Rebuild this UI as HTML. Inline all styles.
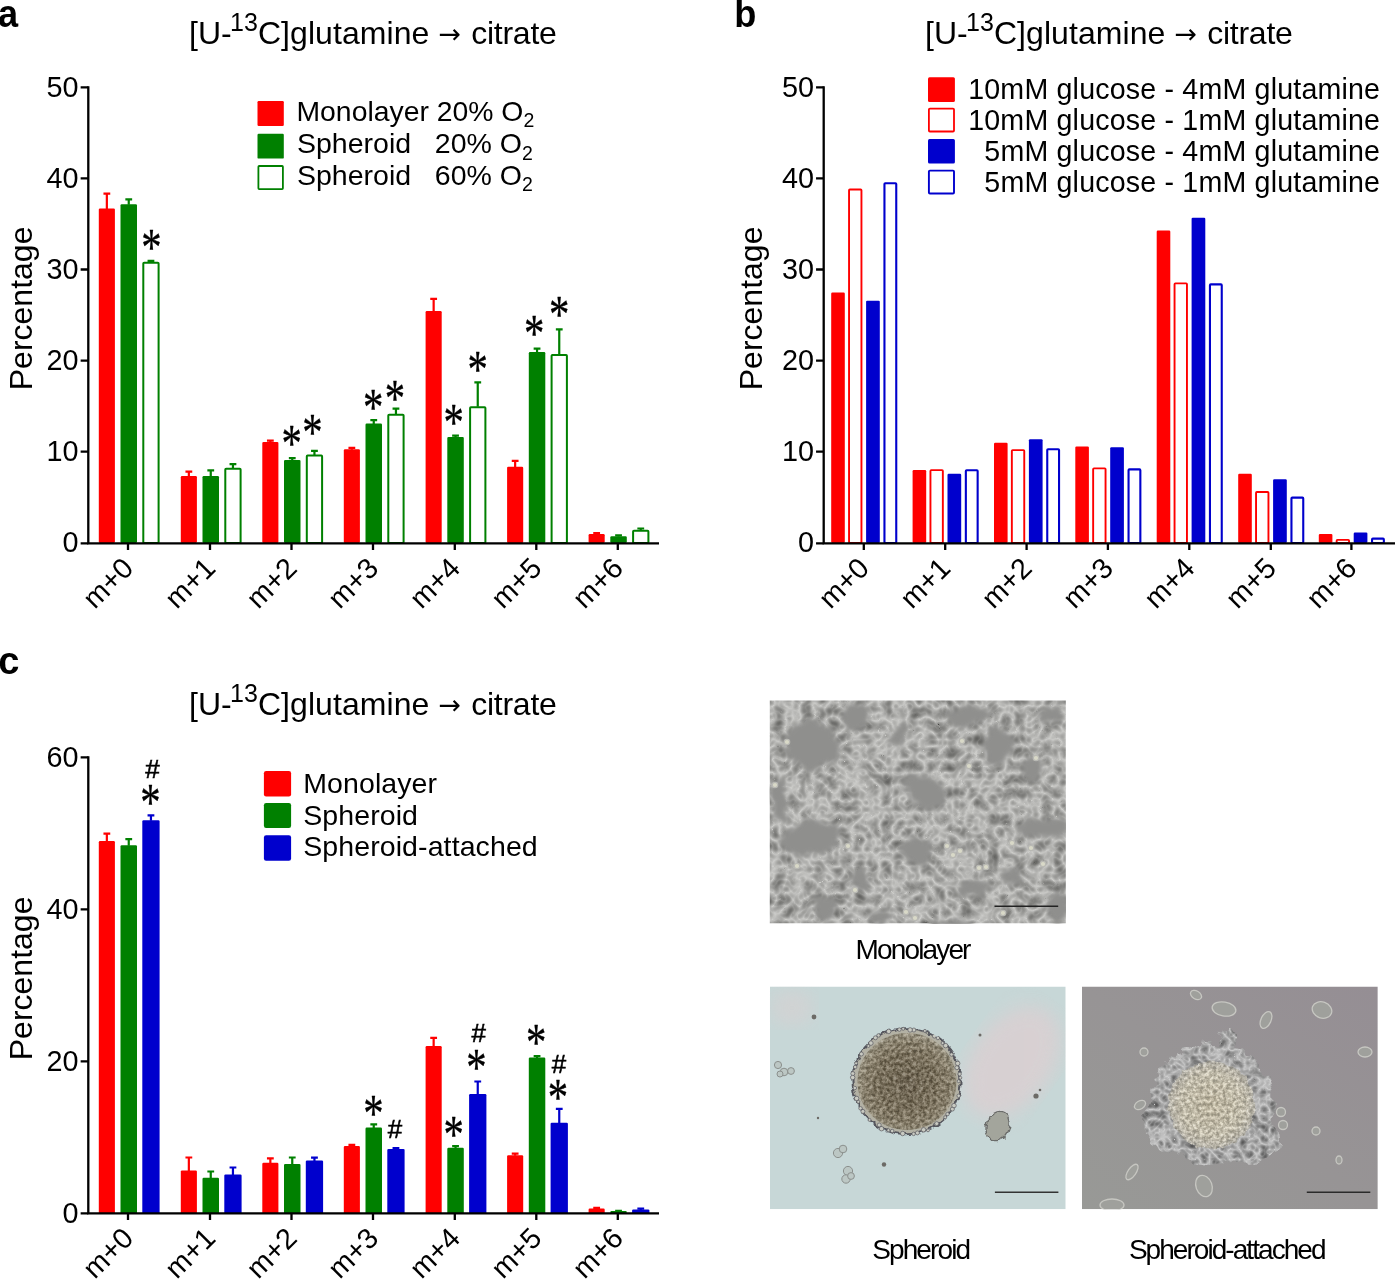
<!DOCTYPE html>
<html lang="en"><head><meta charset="utf-8"><title>Figure</title>
<style>html,body{margin:0;padding:0;background:#fff}svg{display:block}text{font-family:'Liberation Sans', sans-serif;fill:#000}</style></head><body>
<svg width="1395" height="1279" viewBox="0 0 1395 1279">
<rect width="1395" height="1279" fill="#fff"/>
<g id="panel-a">
<text x="-2.0" y="27.1" font-size="38" font-weight="bold" textLength="20.1" lengthAdjust="spacingAndGlyphs" >a</text>
<text x="189" y="44.2" font-size="32">[U-</text>
<text x="230.1" y="31.1" font-size="25">13</text>
<text x="257.9" y="44.2" font-size="32" textLength="171.5" lengthAdjust="spacing">C]glutamine</text>
<text x="438.6" y="43.2" font-size="27" style="font-family:'DejaVu Sans', 'Liberation Sans', sans-serif">→</text>
<text x="471.3" y="44.2" font-size="32" textLength="85.5" lengthAdjust="spacing">citrate</text>
<rect x="98.8" y="208.5" width="16.10000000000001" height="334.5" rx="1.2" fill="#ff0000"/>
<path d="M106.85 209.0 V193.6 M103.44999999999999 193.6 H110.25" fill="none" stroke="#ff0000" stroke-width="2.2"/>
<rect x="120.5" y="204.2" width="16.5" height="338.8" rx="1.2" fill="#008000"/>
<path d="M128.75 204.7 V199.3 M125.35 199.3 H132.15" fill="none" stroke="#008000" stroke-width="2.2"/>
<rect x="143.3" y="262.7" width="15.299999999999983" height="280.3" rx="0.8" fill="#fff" stroke="#008000" stroke-width="2.0"/>
<path d="M150.95 262.2 V260.9 M147.54999999999998 260.9 H154.35" fill="none" stroke="#008000" stroke-width="2.2"/>
<rect x="180.8" y="476.1" width="16.099999999999994" height="66.89999999999998" rx="1.2" fill="#ff0000"/>
<path d="M188.85000000000002 476.6 V471.6 M185.45000000000002 471.6 H192.25000000000003" fill="none" stroke="#ff0000" stroke-width="2.2"/>
<rect x="202.5" y="476.1" width="16.5" height="66.89999999999998" rx="1.2" fill="#008000"/>
<path d="M210.75 476.6 V470.3 M207.35 470.3 H214.15" fill="none" stroke="#008000" stroke-width="2.2"/>
<rect x="225.3" y="468.8" width="15.299999999999983" height="74.19999999999999" rx="0.8" fill="#fff" stroke="#008000" stroke-width="2.0"/>
<path d="M232.95 468.3 V464.1 M229.54999999999998 464.1 H236.35" fill="none" stroke="#008000" stroke-width="2.2"/>
<rect x="262.3" y="441.9" width="16.099999999999966" height="101.10000000000002" rx="1.2" fill="#ff0000"/>
<path d="M270.35 442.4 V440.7 M266.95000000000005 440.7 H273.75" fill="none" stroke="#ff0000" stroke-width="2.2"/>
<rect x="284.0" y="459.9" width="16.5" height="83.10000000000002" rx="1.2" fill="#008000"/>
<path d="M292.25 460.4 V458.2 M288.85 458.2 H295.65" fill="none" stroke="#008000" stroke-width="2.2"/>
<rect x="306.8" y="455.6" width="15.300000000000011" height="87.39999999999998" rx="0.8" fill="#fff" stroke="#008000" stroke-width="2.0"/>
<path d="M314.45000000000005 455.1 V450.8 M311.05000000000007 450.8 H317.85" fill="none" stroke="#008000" stroke-width="2.2"/>
<rect x="343.8" y="449.2" width="16.099999999999966" height="93.80000000000001" rx="1.2" fill="#ff0000"/>
<path d="M351.85 449.7 V447.8 M348.45000000000005 447.8 H355.25" fill="none" stroke="#ff0000" stroke-width="2.2"/>
<rect x="365.5" y="423.6" width="16.5" height="119.39999999999998" rx="1.2" fill="#008000"/>
<path d="M373.75 424.1 V420.1 M370.35 420.1 H377.15" fill="none" stroke="#008000" stroke-width="2.2"/>
<rect x="388.3" y="414.8" width="15.300000000000011" height="128.2" rx="0.8" fill="#fff" stroke="#008000" stroke-width="2.0"/>
<path d="M395.95000000000005 414.3 V408.6 M392.55000000000007 408.6 H399.35" fill="none" stroke="#008000" stroke-width="2.2"/>
<rect x="425.6" y="311" width="16.099999999999966" height="232" rx="1.2" fill="#ff0000"/>
<path d="M433.65 311.5 V298.8 M430.25 298.8 H437.04999999999995" fill="none" stroke="#ff0000" stroke-width="2.2"/>
<rect x="447.3" y="436.9" width="16.5" height="106.10000000000002" rx="1.2" fill="#008000"/>
<path d="M455.55 437.4 V435.7 M452.15000000000003 435.7 H458.95" fill="none" stroke="#008000" stroke-width="2.2"/>
<rect x="470.1" y="407.3" width="15.300000000000011" height="135.7" rx="0.8" fill="#fff" stroke="#008000" stroke-width="2.0"/>
<path d="M477.75 406.8 V382.3 M474.35 382.3 H481.15" fill="none" stroke="#008000" stroke-width="2.2"/>
<rect x="507.09999999999997" y="466.8" width="16.099999999999966" height="76.19999999999999" rx="1.2" fill="#ff0000"/>
<path d="M515.15 467.3 V460.8 M511.75 460.8 H518.55" fill="none" stroke="#ff0000" stroke-width="2.2"/>
<rect x="528.8" y="352.1" width="16.5" height="190.89999999999998" rx="1.2" fill="#008000"/>
<path d="M537.05 352.6 V348.6 M533.65 348.6 H540.4499999999999" fill="none" stroke="#008000" stroke-width="2.2"/>
<rect x="551.5999999999999" y="354.9" width="15.300000000000068" height="188.10000000000002" rx="0.8" fill="#fff" stroke="#008000" stroke-width="2.0"/>
<path d="M559.25 354.4 V329.3 M555.85 329.3 H562.65" fill="none" stroke="#008000" stroke-width="2.2"/>
<rect x="588.5999999999999" y="534" width="16.100000000000023" height="9" rx="1.2" fill="#ff0000"/>
<path d="M596.6499999999999 534.5 V533.0 M593.2499999999999 533.0 H600.0499999999998" fill="none" stroke="#ff0000" stroke-width="2.2"/>
<rect x="610.3" y="536.3" width="16.5" height="6.7000000000000455" rx="1.2" fill="#008000"/>
<path d="M618.55 536.8 V535.3 M615.15 535.3 H621.9499999999999" fill="none" stroke="#008000" stroke-width="2.2"/>
<rect x="633.0999999999999" y="530.7" width="15.300000000000068" height="12.299999999999955" rx="0.8" fill="#fff" stroke="#008000" stroke-width="2.0"/>
<path d="M640.75 530.2 V528.5 M637.35 528.5 H644.15" fill="none" stroke="#008000" stroke-width="2.2"/>
<path d="M88.3 86.14999999999999 V543.4 M87.14999999999999 543.4 H659" fill="none" stroke="#000" stroke-width="2.3"/>
<path d="M80.64999999999999 87.3 H88.3 M80.64999999999999 178.39999999999998 H88.3 M80.64999999999999 269.5 H88.3 M80.64999999999999 360.59999999999997 H88.3 M80.64999999999999 451.7 H88.3 M80.64999999999999 543.4 H88.3 M128 543.4 V549.9 M210 543.4 V549.9 M291.5 543.4 V549.9 M373 543.4 V549.9 M454.8 543.4 V549.9 M536.3 543.4 V549.9 M617.8 543.4 V549.9 " fill="none" stroke="#000" stroke-width="2.3"/>
<text x="78.5" y="96.8" font-size="28.8" text-anchor="end" >50</text>
<text x="78.5" y="187.89999999999998" font-size="28.8" text-anchor="end" >40</text>
<text x="78.5" y="279.0" font-size="28.8" text-anchor="end" >30</text>
<text x="78.5" y="370.09999999999997" font-size="28.8" text-anchor="end" >20</text>
<text x="78.5" y="461.2" font-size="28.8" text-anchor="end" >10</text>
<text x="78.5" y="552.3" font-size="28.8" text-anchor="end" >0</text>
<text x="135" y="569.8" font-size="28.8" text-anchor="end" transform="rotate(-45 135 569.8)" >m+0</text>
<text x="217" y="569.8" font-size="28.8" text-anchor="end" transform="rotate(-45 217 569.8)" >m+1</text>
<text x="298.5" y="569.8" font-size="28.8" text-anchor="end" transform="rotate(-45 298.5 569.8)" >m+2</text>
<text x="380" y="569.8" font-size="28.8" text-anchor="end" transform="rotate(-45 380 569.8)" >m+3</text>
<text x="461.8" y="569.8" font-size="28.8" text-anchor="end" transform="rotate(-45 461.8 569.8)" >m+4</text>
<text x="543.3" y="569.8" font-size="28.8" text-anchor="end" transform="rotate(-45 543.3 569.8)" >m+5</text>
<text x="624.8" y="569.8" font-size="28.8" text-anchor="end" transform="rotate(-45 624.8 569.8)" >m+6</text>
<text x="32.4" y="308.4" font-size="32" text-anchor="middle" transform="rotate(-90 32.4 308.4)" >Percentage</text>
<rect x="257.5" y="101.1" width="26.3" height="24.8" rx="1.2" fill="#ff0000"/>
<rect x="257.5" y="133.8" width="26.3" height="24.8" rx="1.2" fill="#008000"/>
<rect x="258.4" y="166" width="24.5" height="23.1" rx="0.8" fill="#fff" stroke="#008000" stroke-width="1.8"/>
<text x="296.5" y="120.6" font-size="28.35" xml:space="preserve">Monolayer 20% O<tspan dy="6.3" font-size="19.5">2</tspan></text>
<text x="297" y="153.2" font-size="28.5" xml:space="preserve">Spheroid   20% O<tspan dy="6.3" font-size="19.5">2</tspan></text>
<text x="297" y="184.7" font-size="28.5" xml:space="preserve">Spheroid   60% O<tspan dy="6.3" font-size="19.5">2</tspan></text>
<text transform="translate(141.31 265.04) scale(0.4069 0.5204)" style="font-family:'Liberation Serif', serif" font-size="100.0" stroke="#000" stroke-width="0.7" stroke-linejoin="round">*</text>
<text transform="translate(281.51 461.04) scale(0.4069 0.5204)" style="font-family:'Liberation Serif', serif" font-size="100.0" stroke="#000" stroke-width="0.7" stroke-linejoin="round">*</text>
<text transform="translate(302.21 449.84) scale(0.4069 0.5204)" style="font-family:'Liberation Serif', serif" font-size="100.0" stroke="#000" stroke-width="0.7" stroke-linejoin="round">*</text>
<text transform="translate(363.01 425.24) scale(0.4069 0.5204)" style="font-family:'Liberation Serif', serif" font-size="100.0" stroke="#000" stroke-width="0.7" stroke-linejoin="round">*</text>
<text transform="translate(384.71 416.44) scale(0.4069 0.5204)" style="font-family:'Liberation Serif', serif" font-size="100.0" stroke="#000" stroke-width="0.7" stroke-linejoin="round">*</text>
<text transform="translate(443.41 440.14) scale(0.4069 0.5204)" style="font-family:'Liberation Serif', serif" font-size="100.0" stroke="#000" stroke-width="0.7" stroke-linejoin="round">*</text>
<text transform="translate(467.41 386.94) scale(0.4069 0.5204)" style="font-family:'Liberation Serif', serif" font-size="100.0" stroke="#000" stroke-width="0.7" stroke-linejoin="round">*</text>
<text transform="translate(523.91 351.04) scale(0.4069 0.5204)" style="font-family:'Liberation Serif', serif" font-size="100.0" stroke="#000" stroke-width="0.7" stroke-linejoin="round">*</text>
<text transform="translate(549.11 332.34) scale(0.4069 0.5204)" style="font-family:'Liberation Serif', serif" font-size="100.0" stroke="#000" stroke-width="0.7" stroke-linejoin="round">*</text>
</g>
<g id="panel-b">
<text x="734.2" y="26.8" font-size="38" font-weight="bold" textLength="22.1" lengthAdjust="spacingAndGlyphs" >b</text>
<text x="925" y="44.2" font-size="32">[U-</text>
<text x="966.1" y="31.1" font-size="25">13</text>
<text x="993.9" y="44.2" font-size="32" textLength="171.5" lengthAdjust="spacing">C]glutamine</text>
<text x="1174.6" y="43.2" font-size="27" style="font-family:'DejaVu Sans', 'Liberation Sans', sans-serif">→</text>
<text x="1207.3" y="44.2" font-size="32" textLength="85.5" lengthAdjust="spacing">citrate</text>
<rect x="831.1999999999999" y="292.475" width="13.600000000000023" height="250.52499999999998" rx="1.2" fill="#ff0000"/>
<rect x="849.05" y="189.57100000000003" width="12.400000000000068" height="353.37899999999996" rx="0.8" fill="#fff" stroke="#ff0000" stroke-width="1.9"/>
<rect x="866.0999999999999" y="300.674" width="13.700000000000045" height="242.32600000000002" rx="1.2" fill="#0000cd"/>
<rect x="884.4499999999999" y="183.29400000000004" width="11.799999999999978" height="359.756" rx="0.8" fill="#fff" stroke="#0000cd" stroke-width="2.1"/>
<rect x="912.6" y="470.12" width="13.600000000000023" height="72.88" rx="1.2" fill="#ff0000"/>
<rect x="930.45" y="470.159" width="12.400000000000068" height="72.791" rx="0.8" fill="#fff" stroke="#ff0000" stroke-width="1.9"/>
<rect x="947.5" y="473.764" width="13.700000000000045" height="69.23599999999999" rx="1.2" fill="#0000cd"/>
<rect x="965.85" y="470.259" width="11.799999999999978" height="72.791" rx="0.8" fill="#fff" stroke="#0000cd" stroke-width="2.1"/>
<rect x="993.9999999999999" y="442.79" width="13.600000000000023" height="100.20999999999998" rx="1.2" fill="#ff0000"/>
<rect x="1011.8499999999999" y="450.117" width="12.399999999999954" height="92.83299999999997" rx="0.8" fill="#fff" stroke="#ff0000" stroke-width="1.9"/>
<rect x="1028.8999999999999" y="439.146" width="13.700000000000045" height="103.85399999999998" rx="1.2" fill="#0000cd"/>
<rect x="1047.2499999999998" y="449.306" width="11.800000000000091" height="93.74400000000003" rx="0.8" fill="#fff" stroke="#0000cd" stroke-width="2.1"/>
<rect x="1075.3000000000002" y="446.434" width="13.599999999999909" height="96.56599999999997" rx="1.2" fill="#ff0000"/>
<rect x="1093.15" y="468.337" width="12.399999999999954" height="74.613" rx="0.8" fill="#fff" stroke="#ff0000" stroke-width="1.9"/>
<rect x="1110.2" y="447.345" width="13.700000000000045" height="95.65499999999997" rx="1.2" fill="#0000cd"/>
<rect x="1128.55" y="469.348" width="11.800000000000091" height="73.702" rx="0.8" fill="#fff" stroke="#0000cd" stroke-width="2.1"/>
<rect x="1156.7" y="230.52700000000004" width="13.599999999999909" height="312.47299999999996" rx="1.2" fill="#ff0000"/>
<rect x="1174.55" y="283.404" width="12.399999999999954" height="259.546" rx="0.8" fill="#fff" stroke="#ff0000" stroke-width="1.9"/>
<rect x="1191.6" y="217.77299999999997" width="13.700000000000045" height="325.22700000000003" rx="1.2" fill="#0000cd"/>
<rect x="1209.9499999999998" y="284.415" width="11.800000000000091" height="258.635" rx="0.8" fill="#fff" stroke="#0000cd" stroke-width="2.1"/>
<rect x="1238.2" y="473.764" width="13.599999999999909" height="69.23599999999999" rx="1.2" fill="#ff0000"/>
<rect x="1256.05" y="492.02299999999997" width="12.399999999999954" height="50.92700000000002" rx="0.8" fill="#fff" stroke="#ff0000" stroke-width="1.9"/>
<rect x="1273.1" y="479.23" width="13.700000000000045" height="63.76999999999998" rx="1.2" fill="#0000cd"/>
<rect x="1291.4499999999998" y="497.589" width="11.800000000000091" height="45.46100000000001" rx="0.8" fill="#fff" stroke="#0000cd" stroke-width="2.1"/>
<rect x="1318.8000000000002" y="533.89" width="13.599999999999909" height="9.110000000000014" rx="1.2" fill="#ff0000"/>
<rect x="1336.65" y="539.8505" width="12.399999999999954" height="3.0995000000000346" rx="0.8" fill="#fff" stroke="#ff0000" stroke-width="1.9"/>
<rect x="1353.7" y="532.5235" width="13.700000000000045" height="10.476499999999987" rx="1.2" fill="#0000cd"/>
<rect x="1372.05" y="538.584" width="11.800000000000091" height="4.466000000000008" rx="0.8" fill="#fff" stroke="#0000cd" stroke-width="2.1"/>
<path d="M823.7 86.14999999999999 V543.4 M822.5500000000001 543.4 H1395" fill="none" stroke="#000" stroke-width="2.3"/>
<path d="M816.0500000000001 87.3 H823.7 M816.0500000000001 178.39999999999998 H823.7 M816.0500000000001 269.5 H823.7 M816.0500000000001 360.59999999999997 H823.7 M816.0500000000001 451.7 H823.7 M816.0500000000001 543.4 H823.7 M863.8 543.4 V549.9 M945.2 543.4 V549.9 M1026.6 543.4 V549.9 M1107.9 543.4 V549.9 M1189.3 543.4 V549.9 M1270.8 543.4 V549.9 M1351.4 543.4 V549.9 " fill="none" stroke="#000" stroke-width="2.3"/>
<text x="814" y="96.8" font-size="28.8" text-anchor="end" >50</text>
<text x="814" y="187.89999999999998" font-size="28.8" text-anchor="end" >40</text>
<text x="814" y="279.0" font-size="28.8" text-anchor="end" >30</text>
<text x="814" y="370.09999999999997" font-size="28.8" text-anchor="end" >20</text>
<text x="814" y="461.2" font-size="28.8" text-anchor="end" >10</text>
<text x="814" y="552.3" font-size="28.8" text-anchor="end" >0</text>
<text x="870.8" y="569.8" font-size="28.8" text-anchor="end" transform="rotate(-45 870.8 569.8)" >m+0</text>
<text x="952.2" y="569.8" font-size="28.8" text-anchor="end" transform="rotate(-45 952.2 569.8)" >m+1</text>
<text x="1033.6" y="569.8" font-size="28.8" text-anchor="end" transform="rotate(-45 1033.6 569.8)" >m+2</text>
<text x="1114.9" y="569.8" font-size="28.8" text-anchor="end" transform="rotate(-45 1114.9 569.8)" >m+3</text>
<text x="1196.3" y="569.8" font-size="28.8" text-anchor="end" transform="rotate(-45 1196.3 569.8)" >m+4</text>
<text x="1277.8" y="569.8" font-size="28.8" text-anchor="end" transform="rotate(-45 1277.8 569.8)" >m+5</text>
<text x="1358.4" y="569.8" font-size="28.8" text-anchor="end" transform="rotate(-45 1358.4 569.8)" >m+6</text>
<text x="762.4" y="308.4" font-size="32" text-anchor="middle" transform="rotate(-90 762.4 308.4)" >Percentage</text>
<rect x="928" y="77.2" width="26.9" height="24.7" rx="1.5" fill="#ff0000"/>
<rect x="928.9" y="108.60000000000001" width="25.1" height="22.9" rx="1" fill="#fff" stroke="#ff0000" stroke-width="1.8"/>
<rect x="928" y="138.9" width="26.9" height="24.7" rx="1.5" fill="#0000cd"/>
<rect x="928.9" y="170.6" width="25.1" height="22.9" rx="1" fill="#fff" stroke="#0000cd" stroke-width="1.9"/>
<text x="1380" y="98.9" font-size="28.6" text-anchor="end" textLength="411.8" lengthAdjust="spacing">10mM glucose - 4mM glutamine</text>
<text x="1380" y="129.8" font-size="28.6" text-anchor="end" textLength="411.8" lengthAdjust="spacing">10mM glucose - 1mM glutamine</text>
<text x="1380" y="160.8" font-size="28.6" text-anchor="end" textLength="395.7" lengthAdjust="spacing">5mM glucose - 4mM glutamine</text>
<text x="1380" y="191.6" font-size="28.6" text-anchor="end" textLength="395.7" lengthAdjust="spacing">5mM glucose - 1mM glutamine</text>
</g>
<g id="panel-c">
<text x="-1.7" y="673.5" font-size="38" font-weight="bold" >c</text>
<text x="189" y="714.8" font-size="32">[U-</text>
<text x="230.1" y="701.6999999999999" font-size="25">13</text>
<text x="257.9" y="714.8" font-size="32" textLength="171.5" lengthAdjust="spacing">C]glutamine</text>
<text x="438.6" y="713.8" font-size="27" style="font-family:'DejaVu Sans', 'Liberation Sans', sans-serif">→</text>
<text x="471.3" y="714.8" font-size="32" textLength="85.5" lengthAdjust="spacing">citrate</text>
<rect x="98.8" y="841" width="16.10000000000001" height="372.4000000000001" rx="1.2" fill="#ff0000"/>
<path d="M106.85 841.5 V833.6 M103.44999999999999 833.6 H110.25" fill="none" stroke="#ff0000" stroke-width="2.2"/>
<rect x="120.5" y="845.3" width="16.5" height="368.10000000000014" rx="1.2" fill="#008000"/>
<path d="M128.75 845.8 V839.2 M125.35 839.2 H132.15" fill="none" stroke="#008000" stroke-width="2.2"/>
<rect x="142.3" y="820.3" width="17.299999999999983" height="393.10000000000014" rx="1.2" fill="#0000cd"/>
<path d="M150.95 820.8 V815.3 M147.54999999999998 815.3 H154.35" fill="none" stroke="#0000cd" stroke-width="2.2"/>
<rect x="180.8" y="1170.4" width="16.099999999999994" height="43.0" rx="1.2" fill="#ff0000"/>
<path d="M188.85000000000002 1170.9 V1157.5 M185.45000000000002 1157.5 H192.25000000000003" fill="none" stroke="#ff0000" stroke-width="2.2"/>
<rect x="202.5" y="1177.8" width="16.5" height="35.600000000000136" rx="1.2" fill="#008000"/>
<path d="M210.75 1178.3 V1171.5 M207.35 1171.5 H214.15" fill="none" stroke="#008000" stroke-width="2.2"/>
<rect x="224.3" y="1174.6" width="17.299999999999983" height="38.80000000000018" rx="1.2" fill="#0000cd"/>
<path d="M232.95 1175.1 V1167.5 M229.54999999999998 1167.5 H236.35" fill="none" stroke="#0000cd" stroke-width="2.2"/>
<rect x="262.3" y="1162.7" width="16.099999999999966" height="50.700000000000045" rx="1.2" fill="#ff0000"/>
<path d="M270.35 1163.2 V1158.4 M266.95000000000005 1158.4 H273.75" fill="none" stroke="#ff0000" stroke-width="2.2"/>
<rect x="284.0" y="1163.9" width="16.5" height="49.5" rx="1.2" fill="#008000"/>
<path d="M292.25 1164.4 V1157.5 M288.85 1157.5 H295.65" fill="none" stroke="#008000" stroke-width="2.2"/>
<rect x="305.8" y="1160.6" width="17.30000000000001" height="52.80000000000018" rx="1.2" fill="#0000cd"/>
<path d="M314.45000000000005 1161.1 V1157.7 M311.05000000000007 1157.7 H317.85" fill="none" stroke="#0000cd" stroke-width="2.2"/>
<rect x="343.8" y="1145.9" width="16.099999999999966" height="67.5" rx="1.2" fill="#ff0000"/>
<path d="M351.85 1146.4 V1144.9 M348.45000000000005 1144.9 H355.25" fill="none" stroke="#ff0000" stroke-width="2.2"/>
<rect x="365.5" y="1127.6" width="16.5" height="85.80000000000018" rx="1.2" fill="#008000"/>
<path d="M373.75 1128.1 V1124.3 M370.35 1124.3 H377.15" fill="none" stroke="#008000" stroke-width="2.2"/>
<rect x="387.3" y="1148.9" width="17.30000000000001" height="64.5" rx="1.2" fill="#0000cd"/>
<path d="M395.95000000000005 1149.4 V1148.2 M392.55000000000007 1148.2 H399.35" fill="none" stroke="#0000cd" stroke-width="2.2"/>
<rect x="425.6" y="1046" width="16.099999999999966" height="167.4000000000001" rx="1.2" fill="#ff0000"/>
<path d="M433.65 1046.5 V1037.8 M430.25 1037.8 H437.04999999999995" fill="none" stroke="#ff0000" stroke-width="2.2"/>
<rect x="447.3" y="1147.7" width="16.5" height="65.70000000000005" rx="1.2" fill="#008000"/>
<path d="M455.55 1148.2 V1146.2 M452.15000000000003 1146.2 H458.95" fill="none" stroke="#008000" stroke-width="2.2"/>
<rect x="469.1" y="1094" width="17.30000000000001" height="119.40000000000009" rx="1.2" fill="#0000cd"/>
<path d="M477.75 1094.5 V1081.5 M474.35 1081.5 H481.15" fill="none" stroke="#0000cd" stroke-width="2.2"/>
<rect x="507.09999999999997" y="1155.2" width="16.099999999999966" height="58.200000000000045" rx="1.2" fill="#ff0000"/>
<path d="M515.15 1155.7 V1153.7 M511.75 1153.7 H518.55" fill="none" stroke="#ff0000" stroke-width="2.2"/>
<rect x="528.8" y="1057.6" width="16.5" height="155.80000000000018" rx="1.2" fill="#008000"/>
<path d="M537.05 1058.1 V1056.1 M533.65 1056.1 H540.4499999999999" fill="none" stroke="#008000" stroke-width="2.2"/>
<rect x="550.5999999999999" y="1122.8" width="17.300000000000068" height="90.60000000000014" rx="1.2" fill="#0000cd"/>
<path d="M559.25 1123.3 V1108.8 M555.85 1108.8 H562.65" fill="none" stroke="#0000cd" stroke-width="2.2"/>
<rect x="588.5999999999999" y="1208.6" width="16.100000000000023" height="4.800000000000182" rx="1.2" fill="#ff0000"/>
<path d="M596.6499999999999 1209.1 V1207.9 M593.2499999999999 1207.9 H600.0499999999998" fill="none" stroke="#ff0000" stroke-width="2.2"/>
<rect x="610.3" y="1211.1" width="16.5" height="2.300000000000182" rx="1.2" fill="#008000"/>
<path d="M618.55 1211.6 V1210.8 M615.15 1210.8 H621.9499999999999" fill="none" stroke="#008000" stroke-width="2.2"/>
<rect x="632.0999999999999" y="1209.4" width="17.300000000000068" height="4.0" rx="1.2" fill="#0000cd"/>
<path d="M640.75 1209.9 V1208.7 M637.35 1208.7 H644.15" fill="none" stroke="#0000cd" stroke-width="2.2"/>
<path d="M88.3 756.15 V1213.4 M87.14999999999999 1213.4 H659" fill="none" stroke="#000" stroke-width="2.3"/>
<path d="M80.64999999999999 757.3 H88.3 M80.64999999999999 909.3299999999999 H88.3 M80.64999999999999 1061.36 H88.3 M80.64999999999999 1213.4 H88.3 M128 1213.4 V1219.9 M210 1213.4 V1219.9 M291.5 1213.4 V1219.9 M373 1213.4 V1219.9 M454.8 1213.4 V1219.9 M536.3 1213.4 V1219.9 M617.8 1213.4 V1219.9 " fill="none" stroke="#000" stroke-width="2.3"/>
<text x="78.5" y="766.8" font-size="28.8" text-anchor="end" >60</text>
<text x="78.5" y="918.8299999999999" font-size="28.8" text-anchor="end" >40</text>
<text x="78.5" y="1070.86" font-size="28.8" text-anchor="end" >20</text>
<text x="78.5" y="1222.8899999999999" font-size="28.8" text-anchor="end" >0</text>
<text x="135" y="1239.8000000000002" font-size="28.8" text-anchor="end" transform="rotate(-45 135 1239.8000000000002)" >m+0</text>
<text x="217" y="1239.8000000000002" font-size="28.8" text-anchor="end" transform="rotate(-45 217 1239.8000000000002)" >m+1</text>
<text x="298.5" y="1239.8000000000002" font-size="28.8" text-anchor="end" transform="rotate(-45 298.5 1239.8000000000002)" >m+2</text>
<text x="380" y="1239.8000000000002" font-size="28.8" text-anchor="end" transform="rotate(-45 380 1239.8000000000002)" >m+3</text>
<text x="461.8" y="1239.8000000000002" font-size="28.8" text-anchor="end" transform="rotate(-45 461.8 1239.8000000000002)" >m+4</text>
<text x="543.3" y="1239.8000000000002" font-size="28.8" text-anchor="end" transform="rotate(-45 543.3 1239.8000000000002)" >m+5</text>
<text x="624.8" y="1239.8000000000002" font-size="28.8" text-anchor="end" transform="rotate(-45 624.8 1239.8000000000002)" >m+6</text>
<text x="32.4" y="978.4" font-size="32" text-anchor="middle" transform="rotate(-90 32.4 978.4)" >Percentage</text>
<rect x="263.9" y="771.1" width="27.2" height="25.3" rx="2.2" fill="#ff0000"/>
<rect x="263.9" y="803" width="27.2" height="25" rx="2.2" fill="#008000"/>
<rect x="263.9" y="835.2" width="27.2" height="25.6" rx="2.2" fill="#0000cd"/>
<text x="303.2" y="793.3" font-size="28.5" letter-spacing="0.1">Monolayer</text>
<text x="303.2" y="825.2" font-size="28.5" letter-spacing="0.1">Spheroid</text>
<text x="303.2" y="856.4" font-size="28.5" letter-spacing="0.1">Spheroid-attached</text>
<text transform="translate(140.31 820.44) scale(0.4069 0.5204)" style="font-family:'Liberation Serif', serif" font-size="100.0" stroke="#000" stroke-width="0.7" stroke-linejoin="round">*</text>
<text transform="translate(363.21 1131.34) scale(0.4069 0.5204)" style="font-family:'Liberation Serif', serif" font-size="100.0" stroke="#000" stroke-width="0.7" stroke-linejoin="round">*</text>
<text transform="translate(443.41 1151.94) scale(0.4069 0.5204)" style="font-family:'Liberation Serif', serif" font-size="100.0" stroke="#000" stroke-width="0.7" stroke-linejoin="round">*</text>
<text transform="translate(466.31 1084.74) scale(0.4069 0.5204)" style="font-family:'Liberation Serif', serif" font-size="100.0" stroke="#000" stroke-width="0.7" stroke-linejoin="round">*</text>
<text transform="translate(525.91 1059.54) scale(0.4069 0.5204)" style="font-family:'Liberation Serif', serif" font-size="100.0" stroke="#000" stroke-width="0.7" stroke-linejoin="round">*</text>
<text transform="translate(547.81 1115.14) scale(0.4069 0.5204)" style="font-family:'Liberation Serif', serif" font-size="100.0" stroke="#000" stroke-width="0.7" stroke-linejoin="round">*</text>
<text x="152.6" y="777.6" font-size="26" text-anchor="middle" stroke="#000" stroke-width="0.55">#</text>
<text x="395" y="1138.3000000000002" font-size="26" text-anchor="middle" stroke="#000" stroke-width="0.55">#</text>
<text x="478.7" y="1041.7" font-size="26" text-anchor="middle" stroke="#000" stroke-width="0.55">#</text>
<text x="559" y="1072.6000000000001" font-size="26" text-anchor="middle" stroke="#000" stroke-width="0.55">#</text>
</g>
<defs>
<filter id="fMono" x="0" y="0" width="100%" height="100%" color-interpolation-filters="sRGB"><feTurbulence type="turbulence" baseFrequency="0.075" numOctaves="2" seed="11" result="fine"/><feColorMatrix in="fine" type="matrix" values="-0.52 0 0 0 0.8  -0.52 0 0 0 0.8  -0.52 0 0 0 0.79  0 0 0 0 1" result="cells"/><feGaussianBlur in="cells" stdDeviation="0.5"/></filter>
<filter id="fSoft" x="-20%" y="-20%" width="140%" height="140%"><feTurbulence type="fractalNoise" baseFrequency="0.06" numOctaves="2" seed="4" result="n"/><feDisplacementMap in="SourceGraphic" in2="n" scale="16" xChannelSelector="R" yChannelSelector="G" result="d"/><feGaussianBlur in="d" stdDeviation="2.2"/></filter>
<filter id="fGrain" x="-5%" y="-5%" width="110%" height="110%" color-interpolation-filters="sRGB"><feTurbulence type="fractalNoise" baseFrequency="0.3" numOctaves="3" seed="5" result="n"/><feColorMatrix in="n" type="matrix" values="2 0 0 0 -0.5  2 0 0 0 -0.52  2 0 0 0 -0.56  0 0 0 0 0.3" result="ov"/><feComposite in="ov" in2="SourceGraphic" operator="in" result="o2"/><feMerge><feMergeNode in="SourceGraphic"/><feMergeNode in="o2"/></feMerge></filter>
<filter id="fRough" x="-10%" y="-10%" width="120%" height="120%"><feTurbulence type="fractalNoise" baseFrequency="0.16" numOctaves="2" seed="3" result="n"/><feDisplacementMap in="SourceGraphic" in2="n" scale="6" xChannelSelector="R" yChannelSelector="G"/></filter>
<filter id="fRough2" x="-10%" y="-10%" width="120%" height="120%"><feTurbulence type="fractalNoise" baseFrequency="0.09" numOctaves="2" seed="9" result="n"/><feDisplacementMap in="SourceGraphic" in2="n" scale="14" xChannelSelector="R" yChannelSelector="G"/></filter>
<filter id="fRing" x="-10%" y="-10%" width="120%" height="120%" color-interpolation-filters="sRGB"><feTurbulence type="fractalNoise" baseFrequency="0.09" numOctaves="2" seed="9" result="dn"/><feDisplacementMap in="SourceGraphic" in2="dn" scale="14" xChannelSelector="R" yChannelSelector="G" result="shape"/><feTurbulence type="turbulence" baseFrequency="0.1" numOctaves="2" seed="21" result="fine"/><feColorMatrix in="fine" type="matrix" values="-0.65 0 0 0 0.8  -0.65 0 0 0 0.8  -0.65 0 0 0 0.8  0 0 0 0 1" result="cells"/><feComposite in="cells" in2="shape" operator="in"/></filter>
<filter id="fBlur"><feGaussianBlur stdDeviation="9"/></filter>
<filter id="fBlur1"><feGaussianBlur stdDeviation="0.7"/></filter>
<radialGradient id="gSph" cx="50%" cy="52%" r="50%"><stop offset="0" stop-color="#6a5f4b"/><stop offset="0.55" stop-color="#766b54"/><stop offset="0.85" stop-color="#8a8069"/><stop offset="1" stop-color="#9c9580"/></radialGradient>
<radialGradient id="gAtt" cx="50%" cy="50%" r="50%"><stop offset="0" stop-color="#d5cdb4"/><stop offset="0.7" stop-color="#dcd6c2"/><stop offset="0.9" stop-color="#d2cec0"/><stop offset="1" stop-color="#c3c1b9"/></radialGradient>
<linearGradient id="gAttBg" x1="0" y1="1" x2="1" y2="0"><stop offset="0" stop-color="#989996"/><stop offset="0.5" stop-color="#979495"/><stop offset="1" stop-color="#958e94"/></linearGradient>
<clipPath id="cpM"><rect x="769.8" y="700.5" width="296" height="222.8"/></clipPath>
<clipPath id="cpS"><rect x="769.9" y="986.5" width="295.8" height="222.7"/></clipPath>
<clipPath id="cpA"><rect x="1082" y="986.5" width="295.8" height="222.7"/></clipPath>
</defs>
<g id="photo-mono" clip-path="url(#cpM)">
<rect x="769.8" y="700.5" width="296" height="222.8" fill="#969694" filter="url(#fMono)"/>
<g fill="#8f8f8d" filter="url(#fSoft)">
<ellipse cx="812" cy="744" rx="27" ry="24" transform="rotate(20 812 744)"/>
<ellipse cx="856" cy="716" rx="13" ry="14" transform="rotate(0 856 716)"/>
<ellipse cx="812" cy="838" rx="30" ry="17" transform="rotate(-10 812 838)"/>
<ellipse cx="924" cy="790" rx="22" ry="15" transform="rotate(15 924 790)"/>
<ellipse cx="966" cy="716" rx="23" ry="11" transform="rotate(0 966 716)"/>
<ellipse cx="999" cy="748" rx="15" ry="17" transform="rotate(0 999 748)"/>
<ellipse cx="1043" cy="828" rx="26" ry="10" transform="rotate(0 1043 828)"/>
<ellipse cx="916" cy="851" rx="15" ry="13" transform="rotate(0 916 851)"/>
<ellipse cx="973" cy="889" rx="18" ry="9" transform="rotate(0 973 889)"/>
<ellipse cx="824" cy="906" rx="13" ry="12" transform="rotate(0 824 906)"/>
<ellipse cx="1012" cy="877" rx="11" ry="9" transform="rotate(0 1012 877)"/>
<ellipse cx="880" cy="917" rx="11" ry="8" transform="rotate(0 880 917)"/>
<ellipse cx="780" cy="800" rx="9" ry="22" transform="rotate(0 780 800)"/>
<ellipse cx="1030" cy="770" rx="10" ry="14" transform="rotate(0 1030 770)"/>
<ellipse cx="900" cy="735" rx="9" ry="14" transform="rotate(30 900 735)"/>
<ellipse cx="1058" cy="905" rx="10" ry="16" transform="rotate(0 1058 905)"/>
<ellipse cx="950" cy="925" rx="22" ry="6" transform="rotate(0 950 925)"/>
<ellipse cx="860" cy="880" rx="9" ry="8" transform="rotate(0 860 880)"/>
<ellipse cx="1050" cy="715" rx="12" ry="8" transform="rotate(0 1050 715)"/>
</g>
<circle cx="962" cy="741" r="2.7" fill="#d9d9c8" stroke="#b9b9b4" stroke-width="1.2"/>
<circle cx="969" cy="766" r="2.7" fill="#d9d9c8" stroke="#b9b9b4" stroke-width="1.2"/>
<circle cx="1036" cy="758" r="2.7" fill="#d9d9c8" stroke="#b9b9b4" stroke-width="1.2"/>
<circle cx="848" cy="846" r="2.7" fill="#d9d9c8" stroke="#b9b9b4" stroke-width="1.2"/>
<circle cx="855" cy="890" r="2.7" fill="#d9d9c8" stroke="#b9b9b4" stroke-width="1.2"/>
<circle cx="947" cy="846" r="2.7" fill="#d9d9c8" stroke="#b9b9b4" stroke-width="1.2"/>
<circle cx="953" cy="855" r="2.7" fill="#d9d9c8" stroke="#b9b9b4" stroke-width="1.2"/>
<circle cx="960" cy="851" r="2.7" fill="#d9d9c8" stroke="#b9b9b4" stroke-width="1.2"/>
<circle cx="1012" cy="843" r="2.7" fill="#d9d9c8" stroke="#b9b9b4" stroke-width="1.2"/>
<circle cx="1031" cy="848" r="2.7" fill="#d9d9c8" stroke="#b9b9b4" stroke-width="1.2"/>
<circle cx="1043" cy="864" r="2.7" fill="#d9d9c8" stroke="#b9b9b4" stroke-width="1.2"/>
<circle cx="979" cy="868" r="2.7" fill="#d9d9c8" stroke="#b9b9b4" stroke-width="1.2"/>
<circle cx="986" cy="867" r="2.7" fill="#d9d9c8" stroke="#b9b9b4" stroke-width="1.2"/>
<circle cx="906" cy="912" r="2.7" fill="#d9d9c8" stroke="#b9b9b4" stroke-width="1.2"/>
<circle cx="915" cy="918" r="2.7" fill="#d9d9c8" stroke="#b9b9b4" stroke-width="1.2"/>
<circle cx="787" cy="742" r="2.7" fill="#d9d9c8" stroke="#b9b9b4" stroke-width="1.2"/>
<circle cx="775" cy="785" r="2.7" fill="#d9d9c8" stroke="#b9b9b4" stroke-width="1.2"/>
<circle cx="797" cy="866" r="2.7" fill="#d9d9c8" stroke="#b9b9b4" stroke-width="1.2"/>
<circle cx="1003" cy="913" r="2.7" fill="#d9d9c8" stroke="#b9b9b4" stroke-width="1.2"/>
</g>
<path d="M994.5 906.3 H1058.2" stroke="#222" stroke-width="1.4"/>
<text x="855.5" y="959.3" font-size="28" letter-spacing="-1.85">Monolayer</text>
<g id="photo-sph" clip-path="url(#cpS)">
<rect x="769.9" y="986.5" width="295.8" height="222.7" fill="#c7d7d7"/>
<ellipse cx="1012" cy="1062" rx="40" ry="62" fill="#dccfd1" opacity="0.8" filter="url(#fBlur)" transform="rotate(35 1012 1062)"/>
<ellipse cx="792" cy="1008" rx="22" ry="18" fill="#d8d0d1" opacity="0.6" filter="url(#fBlur)"/>
<g filter="url(#fRough)">
<ellipse cx="906.5" cy="1081.2" rx="55" ry="54" fill="#55565d"/>
<ellipse cx="906.5" cy="1081.2" rx="53" ry="52" fill="#b3b1a4"/>
</g>
<g filter="url(#fGrain)"><ellipse cx="907" cy="1081.5" rx="49.5" ry="48.5" fill="url(#gSph)"/></g>
<circle cx="958.7" cy="1081.2" r="1.50" fill="#c9cac2" stroke="#5b5c62" stroke-width="0.7"/>
<circle cx="958.7" cy="1095.8" r="1.75" fill="#c9cac2" stroke="#5b5c62" stroke-width="0.7"/>
<circle cx="952.4" cy="1109.1" r="2.00" fill="#c9cac2" stroke="#5b5c62" stroke-width="0.7"/>
<circle cx="954.0" cy="1105.6" r="2.25" fill="#c9cac2" stroke="#5b5c62" stroke-width="0.7"/>
<circle cx="945.2" cy="1117.2" r="1.50" fill="#c9cac2" stroke="#5b5c62" stroke-width="0.7"/>
<circle cx="947.5" cy="1114.1" r="1.75" fill="#c9cac2" stroke="#5b5c62" stroke-width="0.7"/>
<circle cx="936.7" cy="1123.6" r="2.00" fill="#c9cac2" stroke="#5b5c62" stroke-width="0.7"/>
<circle cx="923.6" cy="1129.8" r="2.25" fill="#c9cac2" stroke="#5b5c62" stroke-width="0.7"/>
<circle cx="928.0" cy="1130.3" r="1.50" fill="#c9cac2" stroke="#5b5c62" stroke-width="0.7"/>
<circle cx="913.6" cy="1133.9" r="1.75" fill="#c9cac2" stroke="#5b5c62" stroke-width="0.7"/>
<circle cx="917.4" cy="1132.9" r="2.00" fill="#c9cac2" stroke="#5b5c62" stroke-width="0.7"/>
<circle cx="902.7" cy="1133.5" r="2.25" fill="#c9cac2" stroke="#5b5c62" stroke-width="0.7"/>
<circle cx="888.4" cy="1130.2" r="1.50" fill="#c9cac2" stroke="#5b5c62" stroke-width="0.7"/>
<circle cx="892.2" cy="1131.0" r="1.75" fill="#c9cac2" stroke="#5b5c62" stroke-width="0.7"/>
<circle cx="879.2" cy="1125.0" r="2.00" fill="#c9cac2" stroke="#5b5c62" stroke-width="0.7"/>
<circle cx="881.5" cy="1128.7" r="2.25" fill="#c9cac2" stroke="#5b5c62" stroke-width="0.7"/>
<circle cx="869.5" cy="1119.9" r="1.50" fill="#c9cac2" stroke="#5b5c62" stroke-width="0.7"/>
<circle cx="860.5" cy="1108.3" r="1.75" fill="#c9cac2" stroke="#5b5c62" stroke-width="0.7"/>
<circle cx="862.9" cy="1111.4" r="2.00" fill="#c9cac2" stroke="#5b5c62" stroke-width="0.7"/>
<circle cx="856.6" cy="1098.4" r="2.25" fill="#c9cac2" stroke="#5b5c62" stroke-width="0.7"/>
<circle cx="858.3" cy="1101.8" r="1.50" fill="#c9cac2" stroke="#5b5c62" stroke-width="0.7"/>
<circle cx="854.8" cy="1088.0" r="1.75" fill="#c9cac2" stroke="#5b5c62" stroke-width="0.7"/>
<circle cx="852.8" cy="1073.6" r="2.00" fill="#c9cac2" stroke="#5b5c62" stroke-width="0.7"/>
<circle cx="852.7" cy="1077.5" r="2.25" fill="#c9cac2" stroke="#5b5c62" stroke-width="0.7"/>
<circle cx="856.1" cy="1063.3" r="1.50" fill="#c9cac2" stroke="#5b5c62" stroke-width="0.7"/>
<circle cx="855.2" cy="1067.0" r="1.75" fill="#c9cac2" stroke="#5b5c62" stroke-width="0.7"/>
<circle cx="861.4" cy="1054.0" r="2.00" fill="#c9cac2" stroke="#5b5c62" stroke-width="0.7"/>
<circle cx="870.9" cy="1043.1" r="2.25" fill="#c9cac2" stroke="#5b5c62" stroke-width="0.7"/>
<circle cx="868.4" cy="1046.0" r="1.50" fill="#c9cac2" stroke="#5b5c62" stroke-width="0.7"/>
<circle cx="878.5" cy="1035.4" r="1.75" fill="#c9cac2" stroke="#5b5c62" stroke-width="0.7"/>
<circle cx="875.4" cy="1037.8" r="2.00" fill="#c9cac2" stroke="#5b5c62" stroke-width="0.7"/>
<circle cx="888.7" cy="1031.4" r="2.25" fill="#c9cac2" stroke="#5b5c62" stroke-width="0.7"/>
<circle cx="903.2" cy="1028.8" r="1.50" fill="#c9cac2" stroke="#5b5c62" stroke-width="0.7"/>
<circle cx="899.4" cy="1029.6" r="1.75" fill="#c9cac2" stroke="#5b5c62" stroke-width="0.7"/>
<circle cx="913.9" cy="1030.0" r="2.00" fill="#c9cac2" stroke="#5b5c62" stroke-width="0.7"/>
<circle cx="910.1" cy="1029.9" r="2.25" fill="#c9cac2" stroke="#5b5c62" stroke-width="0.7"/>
<circle cx="924.9" cy="1030.9" r="1.50" fill="#c9cac2" stroke="#5b5c62" stroke-width="0.7"/>
<circle cx="937.9" cy="1038.0" r="1.75" fill="#c9cac2" stroke="#5b5c62" stroke-width="0.7"/>
<circle cx="934.4" cy="1036.1" r="2.00" fill="#c9cac2" stroke="#5b5c62" stroke-width="0.7"/>
<circle cx="945.6" cy="1045.6" r="2.25" fill="#c9cac2" stroke="#5b5c62" stroke-width="0.7"/>
<circle cx="942.6" cy="1043.1" r="1.50" fill="#c9cac2" stroke="#5b5c62" stroke-width="0.7"/>
<circle cx="951.5" cy="1054.5" r="1.75" fill="#c9cac2" stroke="#5b5c62" stroke-width="0.7"/>
<circle cx="956.9" cy="1067.7" r="2.00" fill="#c9cac2" stroke="#5b5c62" stroke-width="0.7"/>
<circle cx="957.7" cy="1063.4" r="2.25" fill="#c9cac2" stroke="#5b5c62" stroke-width="0.7"/>
<circle cx="960.3" cy="1077.8" r="1.50" fill="#c9cac2" stroke="#5b5c62" stroke-width="0.7"/>
<circle cx="959.6" cy="1074.0" r="1.75" fill="#c9cac2" stroke="#5b5c62" stroke-width="0.7"/>
<path d="M926 1028 l6 -3 l2 5 l7 2 l-4 5 z" fill="#c7d7d7"/>
<g filter="url(#fRough)"><ellipse cx="998" cy="1126" rx="11.5" ry="15" fill="#a3a59c" stroke="#6b6c6a" stroke-width="1.3" transform="rotate(20 998 1126)"/></g>
<circle cx="778" cy="1065" r="3.6" fill="#bcc7c4" stroke="#8b908d" stroke-width="1"/>
<circle cx="784" cy="1072" r="3.8" fill="#bcc7c4" stroke="#8b908d" stroke-width="1"/>
<circle cx="791" cy="1071" r="3.4" fill="#bcc7c4" stroke="#8b908d" stroke-width="1"/>
<circle cx="780" cy="1074" r="3" fill="#bcc7c4" stroke="#8b908d" stroke-width="1"/>
<circle cx="838" cy="1153" r="4.6" fill="#bcc7c4" stroke="#8b908d" stroke-width="1"/>
<circle cx="843" cy="1149" r="3.8" fill="#bcc7c4" stroke="#8b908d" stroke-width="1"/>
<circle cx="848" cy="1171" r="4.6" fill="#bcc7c4" stroke="#8b908d" stroke-width="1"/>
<circle cx="846" cy="1179" r="4.2" fill="#bcc7c4" stroke="#8b908d" stroke-width="1"/>
<circle cx="851" cy="1176" r="3.4" fill="#bcc7c4" stroke="#8b908d" stroke-width="1"/>
<circle cx="814" cy="1017" r="2.4" fill="#6c6a66"/>
<circle cx="884" cy="1164.5" r="2.2" fill="#6c6a66"/>
<circle cx="980" cy="1035" r="1.5" fill="#6c6a66"/>
<circle cx="1036" cy="1096" r="2.6" fill="#6c6a66"/>
<circle cx="818" cy="1118" r="1.2" fill="#6c6a66"/>
<circle cx="1040" cy="1090" r="1.3" fill="#6c6a66"/>
</g>
<path d="M994.9 1192.3 H1058.4" stroke="#333" stroke-width="1.4"/>
<text x="872.2" y="1258.8" font-size="28" letter-spacing="-1.88">Spheroid</text>
<g id="photo-att" clip-path="url(#cpA)">
<rect x="1082" y="986.5" width="295.8" height="222.7" fill="url(#gAttBg)"/>
<g filter="url(#fRing)">
<ellipse cx="1212" cy="1104" rx="62" ry="60" fill="#fff"/>
<ellipse cx="1240" cy="1140" rx="42" ry="24" fill="#fff"/>
<ellipse cx="1170" cy="1122" rx="26" ry="30" fill="#fff"/>
<ellipse cx="1228" cy="1042" rx="9" ry="14" fill="#fff"/>
</g>
<g filter="url(#fGrain)"><g filter="url(#fRough)"><circle cx="1211.7" cy="1105" r="43.5" fill="url(#gAtt)"/></g></g>
<ellipse cx="1196" cy="995" rx="6" ry="4" fill="#9fa09c" stroke="#c6c6c1" stroke-width="1.3" transform="rotate(30 1196 995)"/>
<ellipse cx="1224" cy="1009" rx="12" ry="7" fill="#9fa09c" stroke="#c6c6c1" stroke-width="1.3" transform="rotate(10 1224 1009)"/>
<ellipse cx="1266" cy="1020" rx="5" ry="9" fill="#9fa09c" stroke="#c6c6c1" stroke-width="1.3" transform="rotate(25 1266 1020)"/>
<ellipse cx="1322" cy="1010" rx="10" ry="8" fill="#9fa09c" stroke="#c6c6c1" stroke-width="1.3" transform="rotate(20 1322 1010)"/>
<ellipse cx="1365" cy="1052" rx="7" ry="5" fill="#9fa09c" stroke="#c6c6c1" stroke-width="1.3" transform="rotate(0 1365 1052)"/>
<ellipse cx="1144" cy="1052" rx="4" ry="4" fill="#9fa09c" stroke="#c6c6c1" stroke-width="1.3" transform="rotate(0 1144 1052)"/>
<ellipse cx="1140" cy="1105" rx="6" ry="4" fill="#9fa09c" stroke="#c6c6c1" stroke-width="1.3" transform="rotate(-30 1140 1105)"/>
<ellipse cx="1132" cy="1172" rx="4" ry="9" fill="#9fa09c" stroke="#c6c6c1" stroke-width="1.3" transform="rotate(35 1132 1172)"/>
<ellipse cx="1204" cy="1186" rx="8" ry="11" fill="#9fa09c" stroke="#c6c6c1" stroke-width="1.3" transform="rotate(-20 1204 1186)"/>
<ellipse cx="1112" cy="1205" rx="12" ry="6" fill="#9fa09c" stroke="#c6c6c1" stroke-width="1.3" transform="rotate(0 1112 1205)"/>
<ellipse cx="1281" cy="1112" rx="4.5" ry="4.5" fill="#9fa09c" stroke="#c6c6c1" stroke-width="1.3" transform="rotate(0 1281 1112)"/>
<ellipse cx="1283" cy="1125" rx="4.5" ry="4.5" fill="#9fa09c" stroke="#c6c6c1" stroke-width="1.3" transform="rotate(0 1283 1125)"/>
<ellipse cx="1316" cy="1131" rx="4" ry="4" fill="#9fa09c" stroke="#c6c6c1" stroke-width="1.3" transform="rotate(0 1316 1131)"/>
<ellipse cx="1339" cy="1160" rx="3" ry="4" fill="#9fa09c" stroke="#c6c6c1" stroke-width="1.3" transform="rotate(0 1339 1160)"/>
</g>
<path d="M1306.8 1192.3 H1370.3" stroke="#2a2a2a" stroke-width="1.4"/>
<text x="1128.9" y="1258.8" font-size="28" letter-spacing="-1.95">Spheroid-attached</text>
</svg></body></html>
